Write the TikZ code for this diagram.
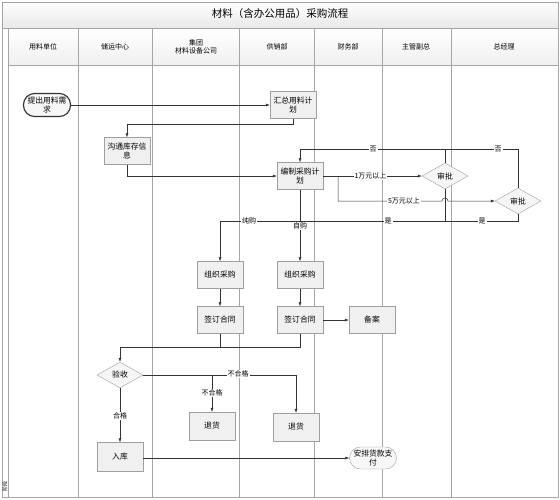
\documentclass[tikz,border=0pt]{standalone}
\usepackage{fontspec}
\newfontfamily\cjk{Noto Sans CJK SC}
\usetikzlibrary{arrows.meta,positioning,shapes.geometric}

\begin{document}
\begin{tikzpicture}[x=1pt,y=-1pt,every node/.style={font=\cjk\fontsize{7}{8.5}\selectfont},
  box/.style={draw=gray!75,fill=gray!12,minimum width=46pt,minimum height=27pt,inner sep=1pt,align=center,font=\cjk\fontsize{7.8}{9.5}\selectfont},
  chk/.style={diamond,draw=gray!75,fill=gray!8,minimum width=46pt,minimum height=26pt,inner sep=0pt,aspect=1.8,font=\cjk\fontsize{7.8}{9.5}\selectfont},
  term/.style={draw=gray!75,fill=gray!6,rounded corners=11pt,minimum width=47pt,minimum height=23pt,inner sep=1pt,align=center,font=\cjk\fontsize{7.8}{9.5}\selectfont},
  flow/.style={draw=gray!40!black,line width=.5pt,-{Latex[length=4pt,width=3pt]}},
  link/.style={draw=gray!40!black,line width=.5pt},
  lbl/.style={fill=white,inner sep=1pt},
  lane/.style={draw=gray!70,line width=.5pt}]
\useasboundingbox (0,0) rectangle (560,499);
% frame, title and header row
\draw[lane,top color=white,bottom color=gray!18] (2,2) rectangle (558,28);
\draw[lane,top color=white,bottom color=gray!12] (8,28) rectangle (558,65);
\draw[lane] (2,2) rectangle (558,497);
\draw[lane] (8,28)--(8,497);
\foreach \x in {78,152,239,314,382,451}
  \draw[lane] (\x,28)--(\x,497);
\node[font=\cjk\fontsize{10.5}{12}\selectfont] (title) at (280,14) {材料（含办公用品）采购流程};
\node (h1) at (43,47) {用料单位};
\node (h2) at (115,47) {储运中心};
\node[align=center] (h3) at (196,47) {集团\\材料设备公司};
\node (h4) at (277,47) {供销部};
\node (h5) at (348,47) {财务部};
\node (h6) at (416,47) {主管副总};
\node (h7) at (504,47) {总经理};
\node[rotate=90,font=\cjk\fontsize{5}{6}\selectfont] (stage) at (5,486) {阶段};
% steps
\node[term,draw=black!80,line width=1.1pt] (need) at (47,105) {提出用料需\\求};
\node[box] (sum) at (293,105) {汇总用料计\\划};
\node[box] (comm) at (127,151) {沟通库存信\\息};
\node[box] (plan) at (300,176) {编制采购计\\划};
\node[chk] (ap1) at (445,176) {审批};
\node[chk] (ap2) at (518,201) {审批};
\node[box] (buy1) at (220,275) {组织采购};
\node[box] (buy2) at (300,275) {组织采购};
\node[box] (sign1) at (220,320) {签订合同};
\node[box] (sign2) at (300,320) {签订合同};
\node[box] (rec) at (372,320) {备案};
\node[chk] (check) at (120,375) {验收};
\node[box,minimum height=28pt] (ret1) at (212,426) {退货};
\node[box,minimum height=28pt] (ret2) at (296,427) {退货};
\node[box,minimum height=29pt] (store) at (120,457) {入库};
\node[term,minimum height=22pt] (pay) at (373,458) {安排货款支\\付};
\coordinate (fork) at (338,176);
\coordinate (join) at (300,221);
% connectors
\draw[flow] (need) -- (sum);
\draw[flow] (sum.south) -- ++(0,6) -| (comm.north);
\draw[flow] (comm.south) |- (plan.west);
\draw[flow] (plan.east) -- node[lbl,pos=.48] (l1) {1万元以上} (ap1.west);
\draw[flow] (fork) |- (442,201) arc[start angle=180,end angle=0,radius=3pt] -- (ap2.west);
\node[lbl] (l5) at (404,201) {5万元以上};
\draw[flow] (ap1.north) -- ++(0,-14) -| (plan.north);
\node[lbl] (n1) at (373,149) {否};
\draw[link] (ap2.north) |- (ap1.north |- 0,149);
\node[lbl] (n2) at (498,149) {否};
\draw[link] (ap1.south) |- (join);
\node[lbl] (y1) at (388,221) {是};
\draw[link] (ap2.south) |- (ap1.south |- join);
\node[lbl] (y2) at (482,221) {是};
\draw[flow] (plan.south) -- (buy2.north);
\node[lbl] (self) at (300,226) {自购};
\draw[flow] (join) -| (buy1.north);
\node[lbl] (pure) at (249,221) {纯购};
\draw[flow] (buy1) -- (sign1);
\draw[flow] (buy2) -- (sign2);
\draw[flow] (sign2) -- (rec);
\draw[link] (sign1.south) -- ++(0,14);
\draw[flow] (sign2.south) -- ++(0,14) -| (check.north);
\draw[flow] (check.east) -| (ret2.north);
\node[lbl] (bad2) at (238,374) {不合格};
\draw[flow] (ret1.north |- check.east) -- (ret1.north);
\node[lbl] (bad1) at (212,393) {不合格};
\draw[flow] (check.south) -- (store.north);
\node[lbl] (ok) at (120,416) {合格};
\draw[flow] (store.east |- pay.west) -- (pay.west);
\end{tikzpicture}
\end{document}
